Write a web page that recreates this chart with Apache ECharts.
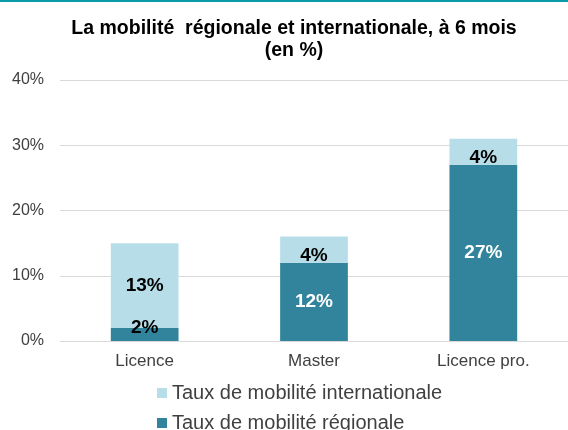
<!DOCTYPE html>
<html>
<head>
<meta charset="utf-8">
<script src="https://cdn.jsdelivr.net/npm/echarts@6/dist/echarts.min.js"></script>
<style>
  html, body { margin: 0; padding: 0; background: #fff; }
  #chart { width: 568px; height: 430px; }
</style>
</head>
<body>
<div id="chart"></div>
<script>
// data
var categories = ['Licence', 'Master', 'Licence pro.'];
var regional = [2, 12, 27];
var international = [13, 4, 4];
var yTicks = [0, 10, 20, 30, 40];

var chart = echarts.init(document.getElementById('chart'));

var font = 'Liberation Sans, Arial, sans-serif';
var legendText = { fontSize: 20, color: '#404040', fontFamily: font };

var option = {
  animation: false,
  textStyle: { fontFamily: font },
  title: {
    text: 'La mobilité  régionale et internationale, à 6 mois\n(en %)',
    left: 289,
    textAlign: 'center',
    top: 13,
    textStyle: { fontSize: 19.5, fontWeight: 'bold', color: '#000', lineHeight: 22, fontFamily: font }
  },
  graphic: [{
    type: 'rect',
    shape: { x: 0, y: 0, width: 568, height: 2 },
    style: { fill: '#0a9ba6' }
  }],
  // two legends so each item sits on its own row
  legend: [{
    left: 152,
    top: 378,
    itemWidth: 10,
    itemHeight: 10,
    icon: 'rect',
    data: ['Taux de mobilité internationale'],
    textStyle: legendText
  }, {
    left: 152,
    top: 408,
    itemWidth: 10,
    itemHeight: 10,
    icon: 'rect',
    data: ['Taux de mobilité régionale'],
    textStyle: legendText
  }],
  grid: { left: 60, top: 80, width: 511, height: 261 },
  xAxis: {
    type: 'category',
    data: categories,
    axisTick: { show: false },
    axisLine: { lineStyle: { color: '#d9d9d9' } },
    axisLabel: { fontSize: 17, color: '#404040', margin: 12, fontFamily: font }
  },
  yAxis: {
    type: 'value',
    min: yTicks[0],
    max: yTicks[yTicks.length - 1],
    interval: 10,
    axisLine: { show: false },
    axisTick: { show: false },
    splitLine: { lineStyle: { color: '#d9d9d9' } },
    axisLabel: { fontSize: 16, color: '#404040', margin: 16, formatter: '{value}%', fontFamily: font }
  },
  series: [{
    name: 'Taux de mobilité régionale',
    type: 'bar',
    stack: 'total',
    barWidth: '40%',
    itemStyle: { color: '#31849b' },
    label: {
      show: true,
      position: 'inside',
      formatter: '{c}%',
      color: '#fff',
      fontSize: 19,
      fontWeight: 'bold',
      fontFamily: font
    },
    data: regional.map(function (v) {
      if (v < 5) {
        return { value: v, label: { color: '#000', offset: [0, -7] } };
      }
      return v;
    })
  }, {
    name: 'Taux de mobilité internationale',
    type: 'bar',
    stack: 'total',
    barWidth: '40%',
    itemStyle: { color: '#b7dee8' },
    label: {
      show: true,
      position: 'inside',
      formatter: '{c}%',
      color: '#000',
      fontSize: 19,
      fontWeight: 'bold',
      fontFamily: font
    },
    data: international.map(function (v) {
      if (v < 5) {
        return { value: v, label: { offset: [0, 6] } };
      }
      return v;
    })
  }]
};

chart.setOption(option);
</script>
</body>
</html>
